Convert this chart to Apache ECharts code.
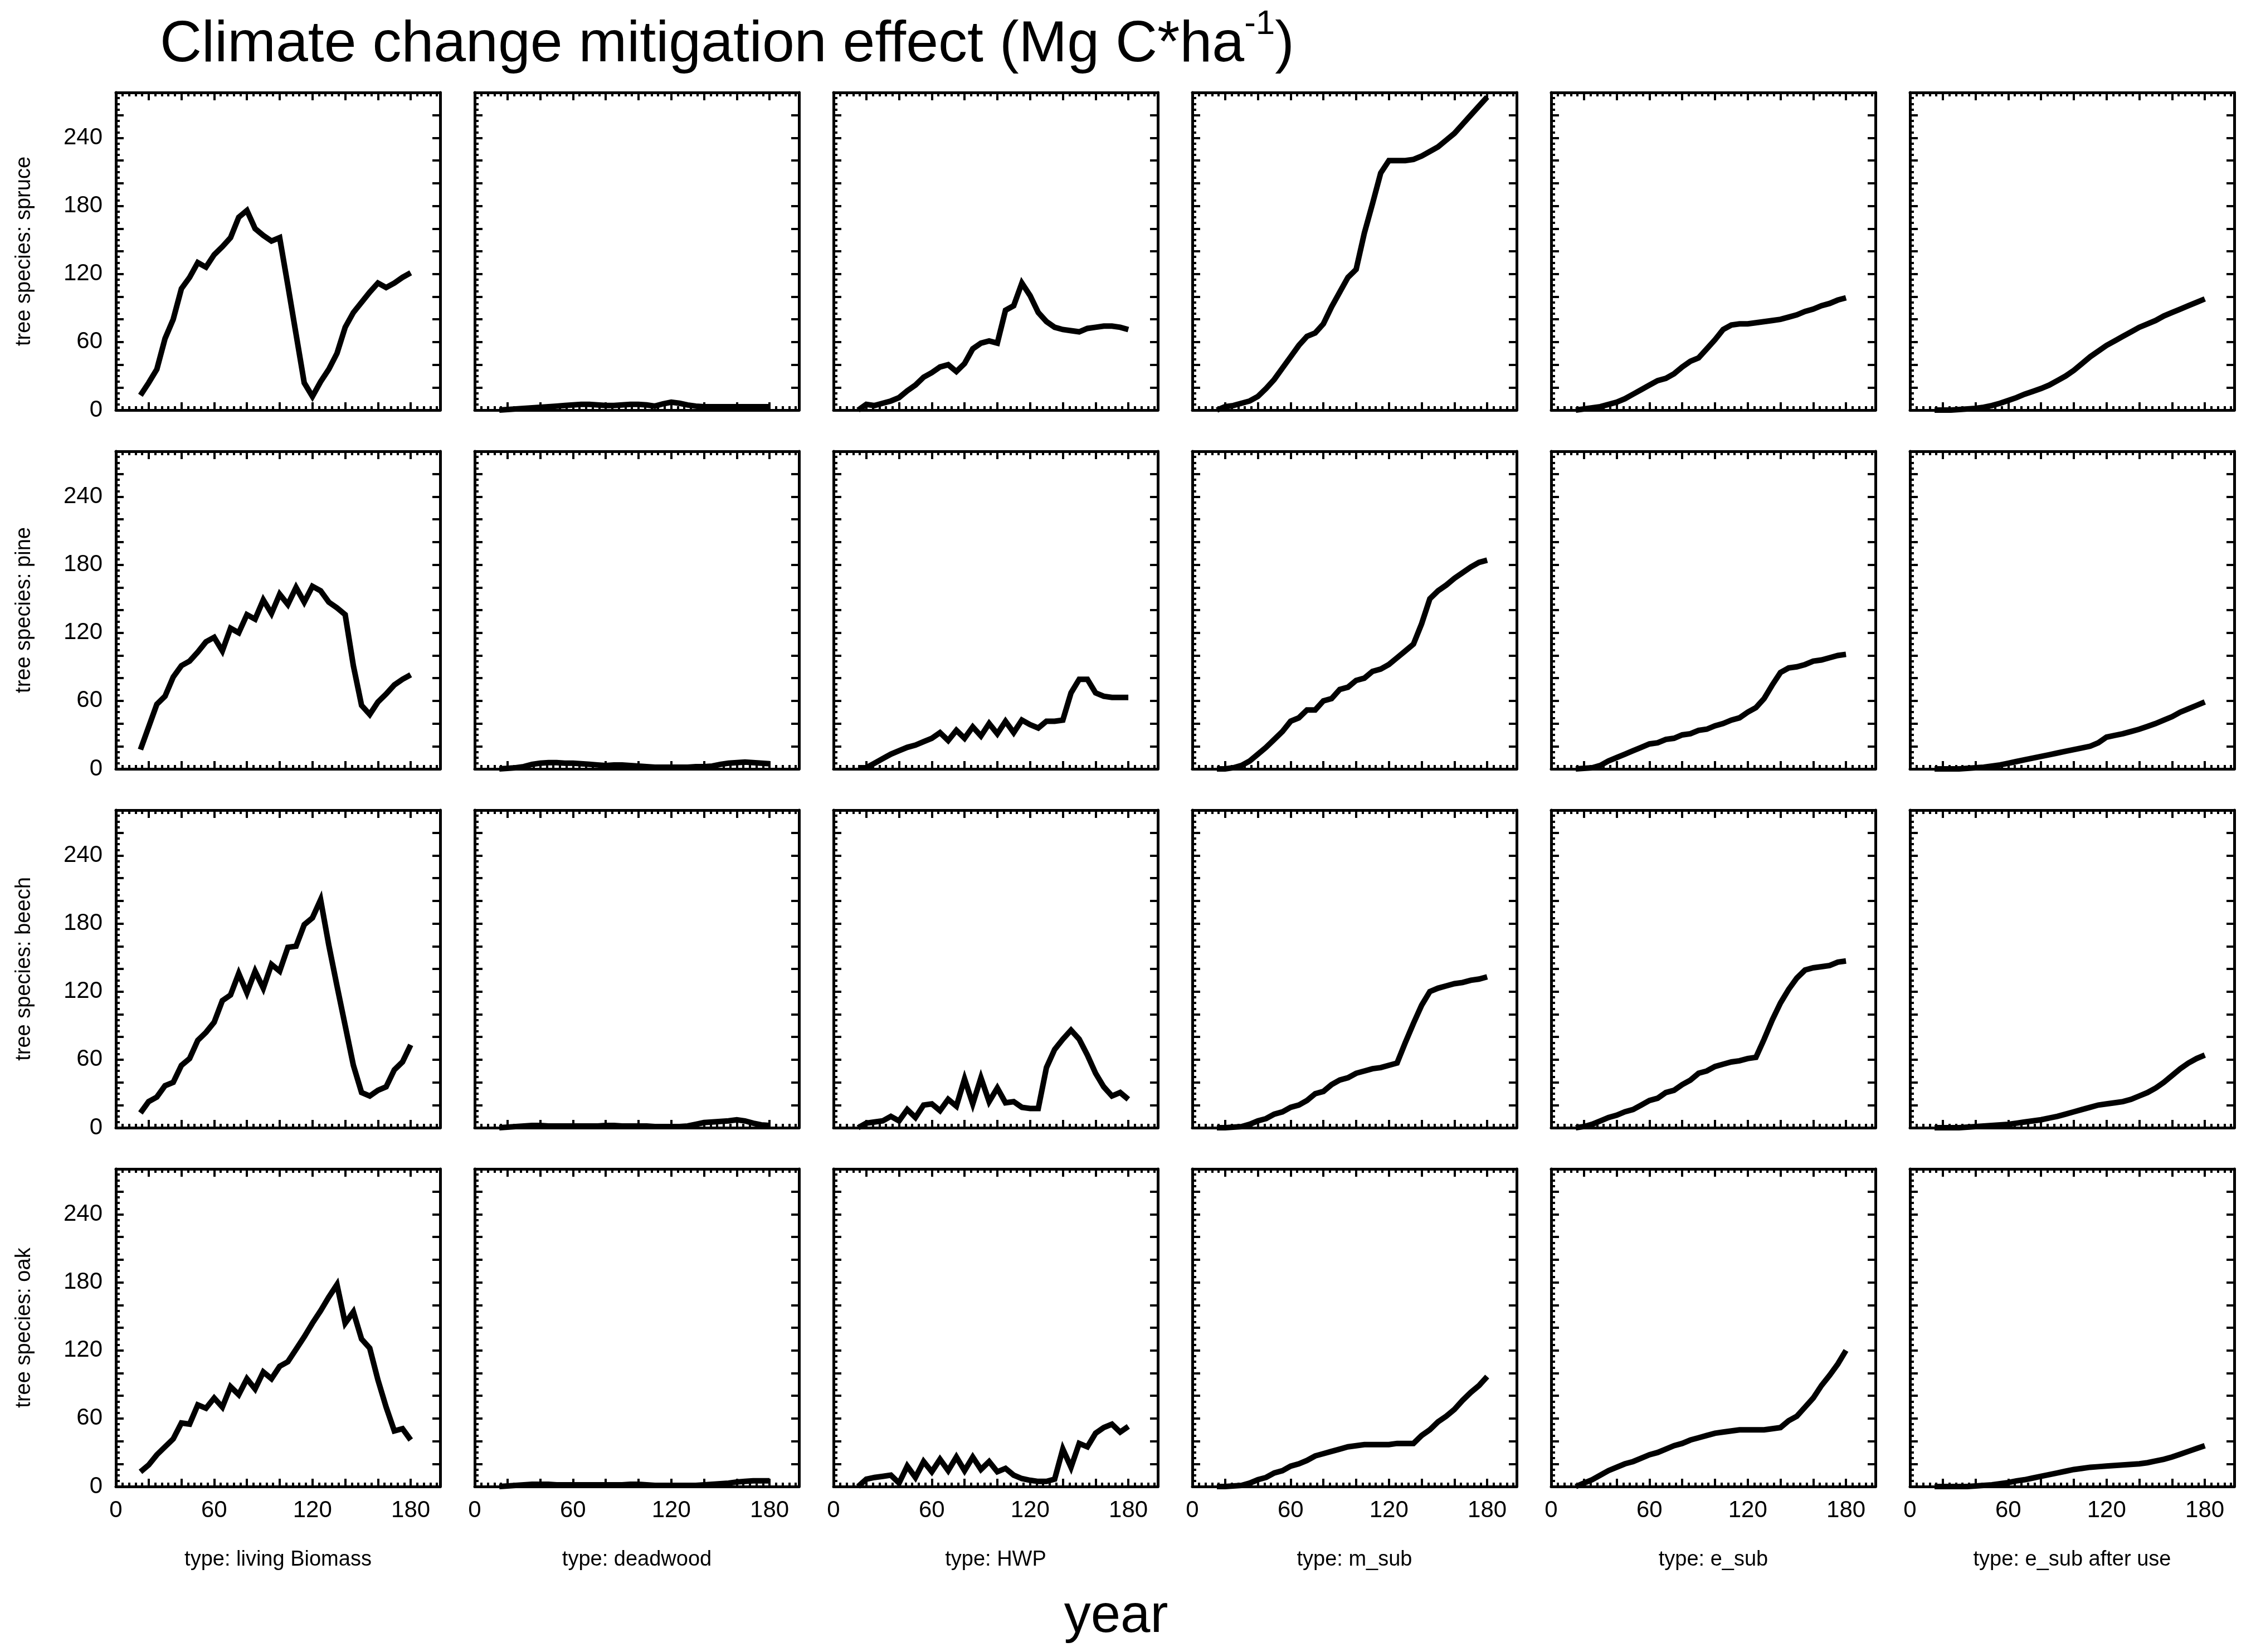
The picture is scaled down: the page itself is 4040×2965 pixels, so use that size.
<!DOCTYPE html>
<html lang="en">
<head>
<meta charset="UTF-8">
<title>Climate change mitigation effect</title>
<script src="https://cdn.jsdelivr.net/npm/echarts@6/dist/echarts.min.js"></script>
<style>html,body{margin:0;padding:0;background:#fff}</style>
</head>
<body>
<div id="main" style="width:4040px;height:2965px;"></div>
<script>
// years
let years = [15,20,25,30,35,40,45,50,55,60,65,70,75,80,85,90,95,100,105,110,115,120,125,130,135,140,145,150,155,160,165,170,175,180];
let species = ['spruce', 'pine', 'beech', 'oak'];
let types = ['living Biomass', 'deadwood', 'HWP', 'm_sub', 'e_sub', 'e_sub after use'];

// spruce
let spruceLiving = [13,24,36,63,80,107,117,130,126,137,144,152,170,176,160,154,149,152,110,67,24,12,25,36,50,73,86,95,104,112,108,112,117,121];
let spruceDead = [0,0.5,1,1.5,2,2.5,3,3.5,4,4.5,5,5,4.5,4,4,4.5,5,5,4.5,3.5,5.5,7,6,4.5,3.5,3,3,3,3,3,3,3,3,3];
let spruceHWP = [0,5,4,6,8,11,17,22,29,33,38,40,34,41,54,59,61,59,88,92,112,101,86,78,73,71,70,69,72,73,74,74,73,71];
let spruceMsub = [0,3,4,6,8,12,19,27,37,47,57,65,68,76,91,104,117,124,156,182,209,220,220,220,221,224,228,232,238,244,252,260,268,276];
let spruceEsub = [0,1,2,3,5,7,10,14,18,22,26,28,32,38,43,46,54,62,71,75,76,76,77,78,79,80,82,84,87,89,92,94,97,99];
let spruceEsubUse = [0,0,0,0.5,1,1.5,2.5,4,6,8.5,11,14,16.5,19,22,26,30,35,41,47,52,57,61,65,69,73,76,79,83,86,89,92,95,98];

// pine
let pineLiving = [17,37,57,64,81,91,95,103,112,116,104,124,120,136,132,149,137,154,145,160,147,161,157,147,142,136,91,56,48,59,66,74,79,83];
let pineDead = [0,0.5,1,2,4,5,5.5,5.5,5,5,4.5,4,3.5,3,3.5,3.5,3,2.5,2,1.5,1.5,1.5,1.5,1.5,2,2,2.5,4,5,5.5,6,5.5,5,4.5];
let pineHWP = [1,1,5,9,13,16,19,21,24,27,32,25,34,27,37,29,40,31,42,32,43,39,36,42,42,43,67,79,79,67,64,63,63,63];
let pineMsub = [0,0,1,3,7,13,19,26,33,42,45,52,52,60,62,70,72,78,80,86,88,92,98,104,110,128,150,157,162,168,173,178,182,184];
let pineEsub = [0,0.5,1,3,7,10,13,16,19,22,23,26,27,30,31,34,35,38,40,43,45,50,54,62,74,85,89,90,92,95,96,98,100,101];
let pineEsubUse = [0,0,0,0,0.5,1,1.5,2.5,3.5,5,6.5,8,9.5,11,12.5,14,15.5,17,18.5,20,23,28,29.5,31,33,35,37.5,40,43,46,50,53,56,59];

// beech
let beechLiving = [13,23,27,37,40,55,61,77,84,93,112,117,136,119,138,123,144,138,159,160,179,185,201,161,125,90,55,31,28,33,36,51,58,73];
let beechDead = [0,0.5,1,1.5,2,2,1.5,1.5,1.5,1.5,1.5,1.5,1.5,2,2,1.5,1.5,1.5,1.5,1,1,1,1,1.5,3,4.5,5,5.5,6,7,6,4,2.5,2];
let beechHWP = [0,4,5,6,10,6,16,9,20,21,15,25,19,43,21,44,23,35,22,23,18,17,17,53,69,78,86,78,64,48,36,28,31,25];
let beechMsub = [0,0,0.5,1,3,6,8,12,14,18,20,24,30,32,38,42,44,48,50,52,53,55,57,75,92,108,120,123,125,127,128,130,131,133];
let beechEsub = [0,1,3,6,9,11,14,16,20,24,26,31,33,38,42,48,50,54,56,58,59,61,62,78,95,110,122,132,139,141,142,143,146,147];
let beechEsubUse = [0,0,0,0,0.5,1,1.5,2,2.5,3,4,5,6,7,8.5,10,12,14,16,18,20,21,22,23,25,28,31,35,40,46,52,57,61,64];

// oak
let oakLiving = [13,19,28,35,42,56,55,72,69,78,70,88,81,95,86,101,95,106,110,121,132,144,155,167,178,144,154,130,122,94,70,49,51,41];
let oakDead = [0,0.5,1,1.5,2,2,2,1.5,1.5,1.5,1.5,1.5,1.5,1.5,1.5,1.5,2,2,1.5,1,1,1,1,1,1,1.5,2,2.5,3,4,4.5,5,5,5];
let oakHWP = [0,6.5,8,9,10,3,18,8,22,13,24,14,26,14,26,15,22,13,16,10,7,5.5,4.5,4.5,6.5,33,17,38,35,47,52,55,48,53];
let oakMsub = [0,0,0.5,1,3,6,8,12,14,18,20,23,27,29,31,33,35,36,37,37,37,37,38,38,38,45,50,57,62,68,76,83,89,97];
let oakEsub = [0,3,6,10,14,17,20,22,25,28,30,33,36,38,41,43,45,47,48,49,50,50,50,50,51,52,58,62,70,78,89,98,108,120];
let oakEsubUse = [0,0,0,0,0,0.5,1,1.5,2.5,3.5,5,6,7.5,9,10.5,12,13.5,15,16,17,17.5,18,18.5,19,19.5,20,21,22.5,24,26,28.5,31,33.5,36];

let panels = [
    [spruceLiving, spruceDead, spruceHWP, spruceMsub, spruceEsub, spruceEsubUse],
    [pineLiving, pineDead, pineHWP, pineMsub, pineEsub, pineEsubUse],
    [beechLiving, beechDead, beechHWP, beechMsub, beechEsub, beechEsubUse],
    [oakLiving, oakDead, oakHWP, oakMsub, oakEsub, oakEsubUse]
];

let myChart = echarts.init(document.getElementById('main'));

let font = 'Liberation Sans, Arial, sans-serif';
let left0 = 208, top0 = 166, stepX = 644, stepY = 644, w = 582, h = 570;
let grid = [], xAxis = [], yAxis = [], series = [], graphic = [];
let axisLine = { show: true, onZero: false, lineStyle: { color: '#000', width: 5 } };
let majorTick = { show: true, inside: true, length: 14, lineStyle: { color: '#000', width: 4 } };
let minorTick = { show: true, length: 7, lineStyle: { color: '#000', width: 4 } };

for (let r = 0; r < 4; r++) {
    for (let c = 0; c < 6; c++) {
        let g = grid.length;
        grid.push({ left: left0 + c * stepX, top: top0 + r * stepY, width: w, height: h });
        // bottom x
        xAxis.push({
            gridIndex: g, type: 'value', min: 0, max: 198, interval: 20, position: 'bottom',
            axisLine: axisLine, axisTick: majorTick,
            minorTick: Object.assign({ splitNumber: 5 }, minorTick),
            splitLine: { show: false }, minorSplitLine: { show: false },
            axisLabel: {
                show: r === 3, fontSize: 42, color: '#000', fontFamily: font, margin: 22,
                formatter: function (v) { return v % 60 === 0 ? v : ''; }
            }
        });
        // top x
        xAxis.push({
            gridIndex: g, type: 'value', min: 0, max: 198, interval: 20, position: 'top',
            axisLine: axisLine, axisTick: majorTick,
            minorTick: Object.assign({ splitNumber: 5 }, minorTick),
            splitLine: { show: false }, minorSplitLine: { show: false }, axisLabel: { show: false }
        });
        // left y
        yAxis.push({
            gridIndex: g, type: 'value', min: 0, max: 280, interval: 20, position: 'left',
            axisLine: axisLine, axisTick: majorTick,
            minorTick: Object.assign({ splitNumber: 4 }, minorTick),
            splitLine: { show: false }, minorSplitLine: { show: false },
            axisLabel: {
                show: c === 0, fontSize: 42, color: '#000', fontFamily: font, margin: 24,
                formatter: function (v) { return v % 60 === 0 ? v : ''; }
            }
        });
        // right y
        yAxis.push({
            gridIndex: g, type: 'value', min: 0, max: 280, interval: 20, position: 'right',
            axisLine: axisLine, axisTick: majorTick,
            splitLine: { show: false }, axisLabel: { show: false }
        });
        series.push({
            type: 'line', xAxisIndex: 2 * g, yAxisIndex: 2 * g,
            data: years.map((y, i) => [y, panels[r][c][i]]),
            showSymbol: false, symbol: 'none', animation: false,
            lineStyle: { color: '#000', width: 10, join: 'miter' }
        });
    }
}

// row labels
species.forEach((s, r) => {
    graphic.push({
        type: 'text', x: 44, y: top0 + r * stepY + h / 2, rotation: Math.PI / 2,
        style: { text: 'tree species: ' + s, font: '38px ' + font, fill: '#000', align: 'center', verticalAlign: 'middle' }
    });
});
// column labels
types.forEach((t, c) => {
    graphic.push({
        type: 'text', x: left0 + c * stepX + w / 2, y: 2800,
        style: { text: 'type: ' + t, font: '38px ' + font, fill: '#000', align: 'center', verticalAlign: 'middle' }
    });
});
graphic.push({
    type: 'text', x: 2003, y: 2903,
    style: { text: 'year', font: '96px ' + font, fill: '#000', align: 'center', verticalAlign: 'middle' }
});

option = {
    backgroundColor: '#fff',
    animation: false,
    title: {
        left: 282, top: 8,
        text: '{a|Climate change mitigation effect (Mg C*ha}{s|-1}{a|)}',
        textStyle: {
            fontWeight: 'normal',
            rich: {
                a: { fontSize: 104, fontFamily: font, fontWeight: 'normal', color: '#000', verticalAlign: 'bottom', lineHeight: 120 },
                s: { fontSize: 62, fontFamily: font, fontWeight: 'normal', color: '#000', verticalAlign: 'top', padding: [0, 0, 50, 0] }
            }
        }
    },
    grid: grid, xAxis: xAxis, yAxis: yAxis, series: series, graphic: graphic
};

myChart.setOption(option);
</script>
</body>
</html>
